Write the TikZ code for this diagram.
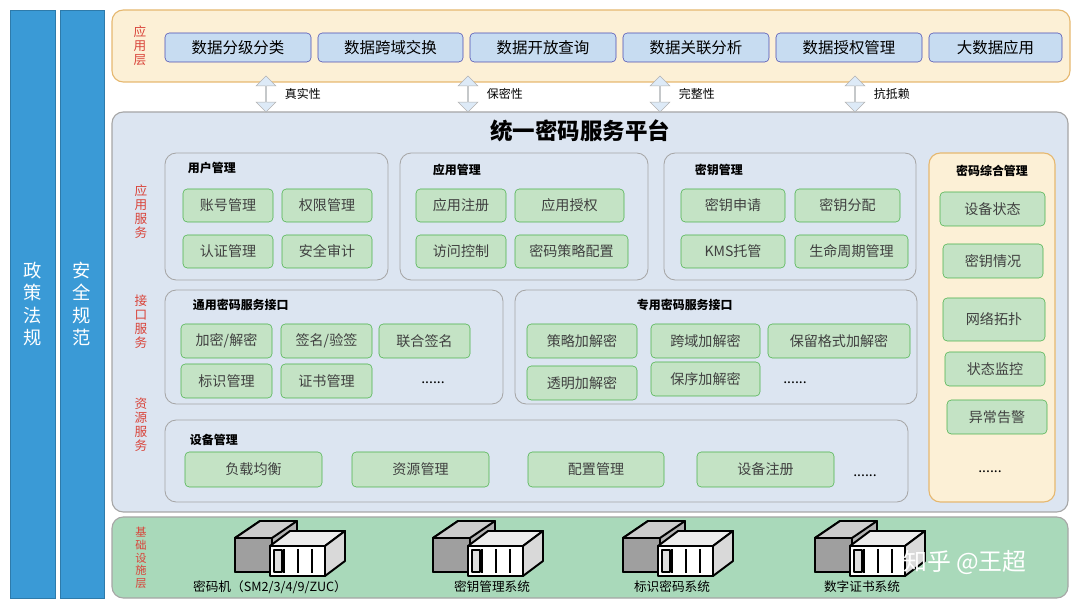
\documentclass[tikz,border=0pt]{standalone}
\usepackage{fontspec}
\setmainfont{Noto Sans CJK SC}
\usetikzlibrary{arrows.meta,shapes.arrows}
\definecolor{sideblue}{HTML}{3A9AD6}
\definecolor{paleyel}{HTML}{FCF0D6}
\definecolor{yelline}{HTML}{E6B870}
\definecolor{boxblue}{HTML}{C7DCF1}
\definecolor{platblue}{HTML}{DCE5F1}
\definecolor{boxgreen}{HTML}{C4E3C5}
\definecolor{infragreen}{HTML}{A9D9BA}
\definecolor{redlab}{HTML}{D9443A}
\newlength{\pxlen}\setlength{\pxlen}{0.025cm}
\tikzstyle{sidebar} = [draw=sideblue!80!black, fill=sideblue, text=white]
\tikzstyle{layer} = [draw=gray!70, rounded corners=8pt, line width=0.8pt]
\tikzstyle{group} = [draw=gray!70, rounded corners=8pt, line width=0.6pt, fill=platblue]
\tikzstyle{block} = [draw=gray!60!green, fill=boxgreen, rounded corners=3pt, font=\fontsize{10}{12}\selectfont, text=black!75]
\tikzstyle{block2} = [draw=gray!60!blue, fill=boxblue, rounded corners=3pt, font=\fontsize{11}{13}\selectfont]
\tikzstyle{title} = [font=\fontsize{8.5}{10}\selectfont\bfseries, anchor=west]
\tikzstyle{redtag} = [text=redlab, font=\fontsize{9}{10}\selectfont, align=center]
\tikzstyle{line} = [draw=gray!60, fill=boxblue!60, double arrow, double arrow head extend=3pt,
    minimum height=36\pxlen, minimum width=14pt, inner sep=0pt, shape border rotate=90]
% box macro: corners, name, text, style
\newcommand{\bx}[7]{\path[#7] (#1,#2) rectangle (#3,#4)
    node[pos=.5] (#5) {#6};}
\newcommand{\server}[1]{%
  \begin{scope}[shift={(#1)}, line width=1.4pt, line join=round]
    \draw[fill=gray!60] (-55,-8) -- (-30,-25) -- (7,-25) -- (7,12) -- (-18,26) -- (-55,26) -- cycle;
    \draw[fill=gray!75] (-55,-8) rectangle (-18,26);
    \draw[fill=gray!40] (-55,-8) -- (-30,-25) -- (7,-25) -- (-18,-8) -- cycle;
    \draw[fill=gray!15] (-20,0) -- (0,-15) -- (55,-15) -- (35,0) -- cycle;
    \draw[fill=gray!30] (35,0) -- (55,-15) -- (55,15) -- (35,30) -- cycle;
    \draw[fill=white] (-20,0) rectangle (35,30);
    \foreach \vx in {-6,8,22} \draw[line width=0.8pt] (\vx,3) -- (\vx,27);
    \draw[line width=0.8pt, fill=gray!25] (-16,4) rectangle (-8,26);
  \end{scope}}
\begin{document}
\begin{tikzpicture}[x=0.025cm, y=-0.025cm]
    \useasboundingbox (0,0) rectangle (1080,609);
    % side bars
    \bx{10}{10}{55}{598}{policy}{}{sidebar}
    \node[text=white, font=\fontsize{13}{16}\selectfont, align=center] at (policy) {政\\策\\法\\规};
    \bx{60}{10}{104}{598}{norm}{}{sidebar}
    \node[text=white, font=\fontsize{13}{16}\selectfont, align=center] at (norm) {安\\全\\规\\范};
    % application layer
    \path[layer, draw=yelline, fill=paleyel] (112,10) rectangle (1070,82);
    \node[redtag] at (140,46) {应\\用\\层};
    \bx{165}{33}{311}{62}{app1}{数据分级分类}{block2}
    \bx{318}{33}{463}{62}{app2}{数据跨域交换}{block2}
    \bx{470}{33}{616}{62}{app3}{数据开放查询}{block2}
    \bx{623}{33}{769}{62}{app4}{数据关联分析}{block2}
    \bx{776}{33}{922}{62}{app5}{数据授权管理}{block2}
    \bx{929}{33}{1062}{62}{app6}{大数据应用}{block2}
    % platform
    \path[layer, fill=platblue] (112,112) rectangle (1068,512);
    \node[font=\fontsize{16}{18}\selectfont\bfseries] (plat) at (580,131) {统一密码服务平台};
    \foreach \ax/\lab in {266/真实性, 468/保密性, 660/完整性, 855/抗抵赖}{
        \node[line] (arr\ax) at (\ax,94) {};
        \node[anchor=west, font=\fontsize{8.5}{10}\selectfont] at (\ax+14,94) {\lab};
    }
    \node[redtag] at (141,212) {应\\用\\服\\务};
    \node[redtag] at (141,322) {接\\口\\服\\务};
    \node[redtag] at (141,425) {资\\源\\服\\务};
    % user management
    \path[group] (165,153) rectangle (388,280);
    \node[title] at (183,168) {用户管理};
    \bx{183}{189}{273}{222}{u1}{账号管理}{block}
    \bx{282}{189}{372}{222}{u2}{权限管理}{block}
    \bx{183}{235}{273}{268}{u3}{认证管理}{block}
    \bx{282}{235}{372}{268}{u4}{安全审计}{block}
    % application management
    \path[group] (400,153) rectangle (648,280);
    \node[title] at (428,170) {应用管理};
    \bx{416}{189}{506}{222}{a1}{应用注册}{block}
    \bx{515}{189}{624}{222}{a2}{应用授权}{block}
    \bx{416}{235}{506}{268}{a3}{访问控制}{block}
    \bx{515}{235}{628}{268}{a4}{密码策略配置}{block}
    % key management
    \path[group] (664,153) rectangle (916,280);
    \node[title] at (690,170) {密钥管理};
    \bx{681}{189}{785}{222}{k1}{密钥申请}{block}
    \bx{795}{189}{900}{222}{k2}{密钥分配}{block}
    \bx{681}{235}{785}{268}{k3}{KMS托管}{block}
    \bx{795}{235}{908}{268}{k4}{生命周期管理}{block}
    % general interface
    \path[group] (165,290) rectangle (503,404);
    \node[title] at (188,305) {通用密码服务接口};
    \bx{181}{324}{272}{358}{g1}{加密/解密}{block}
    \bx{281}{324}{372}{358}{g2}{签名/验签}{block}
    \bx{379}{324}{470}{358}{g3}{联合签名}{block}
    \bx{181}{364}{272}{398}{g4}{标识管理}{block}
    \bx{281}{364}{372}{398}{g5}{证书管理}{block}
    \node (g6) at (433,383) {......};
    % special interface
    \path[group] (515,290) rectangle (917,404);
    \node[title] at (632,305) {专用密码服务接口};
    \bx{527}{324}{637}{358}{s1}{策略加解密}{block}
    \bx{651}{324}{760}{358}{s2}{跨域加解密}{block}
    \bx{768}{324}{910}{358}{s3}{保留格式加解密}{block}
    \bx{527}{366}{637}{400}{s4}{透明加解密}{block}
    \bx{651}{362}{760}{396}{s5}{保序加解密}{block}
    \node (s6) at (795,383) {......};
    % device management
    \path[group] (165,420) rectangle (908,502);
    \node[title] at (185,440) {设备管理};
    \bx{185}{452}{322}{487}{d1}{负载均衡}{block}
    \bx{352}{452}{489}{487}{d2}{资源管理}{block}
    \bx{528}{452}{664}{487}{d3}{配置管理}{block}
    \bx{697}{452}{834}{487}{d4}{设备注册}{block}
    \node (d5) at (865,476) {......};
    % overall crypto management
    \path[layer, draw=yelline, fill=paleyel] (929,153) rectangle (1055,502);
    \node[title, anchor=center] at (992,171) {密码综合管理};
    \bx{940}{192}{1045}{226}{m1}{设备状态}{block}
    \bx{943}{244}{1043}{278}{m2}{密钥情况}{block}
    \bx{943}{298}{1045}{341}{m3}{网络拓扑}{block}
    \bx{945}{352}{1045}{386}{m4}{状态监控}{block}
    \bx{947}{400}{1047}{434}{m5}{异常告警}{block}
    \node (m6) at (990,472) {......};
    % infrastructure layer
    \path[layer, fill=infragreen] (112,517) rectangle (1068,598);
    \node[redtag, font=\fontsize{8}{9}\selectfont] at (141,558) {基\\础\\设\\施\\层};
    \foreach \sx in {290,488,678,870} \server{\sx,546};
    \node[font=\fontsize{9}{11}\selectfont] at (270,587) {密码机（SM2/3/4/9/ZUC）};
    \node[font=\fontsize{9}{11}\selectfont] at (492,587) {密钥管理系统};
    \node[font=\fontsize{9}{11}\selectfont] at (672,587) {标识密码系统};
    \node[font=\fontsize{9}{11}\selectfont] at (862,587) {数字证书系统};
    \node[text=white, font=\fontsize{17}{20}\selectfont] at (965,563) {知乎 @王超};
\end{tikzpicture}
\end{document}
